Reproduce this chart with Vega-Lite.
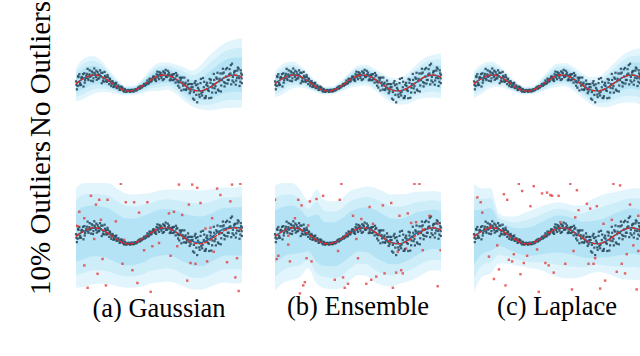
{
"$schema":"https://vega.github.io/schema/vega-lite/v6.json",
"padding":{"left":26,"top":0,"right":0,"bottom":0},
"background":"white",
"config":{"view":{"stroke":null},"title":{"font":"Liberation Serif","fontSize":26.5,"fontWeight":"normal","color":"#000"}},
"title":{"text":"(a) Gaussian","orient":"bottom","anchor":"start","align":"center","dx":83,"offset":-4,"baseline":"alphabetic","frame":"group"},
"datasets":{
"pts":[{"x":0.00,"y":0.20},{"x":0.05,"y":-0.79},{"x":0.10,"y":-0.37},{"x":0.15,"y":0.74},{"x":0.20,"y":1.10},{"x":0.25,"y":0.00},{"x":0.30,"y":-0.24},{"x":0.35,"y":0.75},{"x":0.40,"y":0.61},{"x":0.45,"y":-0.44},{"x":0.50,"y":1.21},{"x":0.55,"y":0.35},{"x":0.60,"y":0.64},{"x":0.65,"y":1.14},{"x":0.70,"y":1.77},{"x":0.75,"y":0.38},{"x":0.80,"y":1.08},{"x":0.85,"y":0.77},{"x":0.90,"y":0.28},{"x":0.95,"y":1.45},{"x":1.00,"y":1.30},{"x":1.05,"y":0.58},{"x":1.10,"y":1.81},{"x":1.15,"y":1.05},{"x":1.20,"y":0.76},{"x":1.25,"y":0.40},{"x":1.30,"y":1.36},{"x":1.35,"y":1.09},{"x":1.40,"y":0.59},{"x":1.45,"y":1.58},{"x":1.50,"y":0.83},{"x":1.55,"y":-0.03},{"x":1.60,"y":1.27},{"x":1.65,"y":0.55},{"x":1.70,"y":0.17},{"x":1.75,"y":0.89},{"x":1.80,"y":0.73},{"x":1.85,"y":0.14},{"x":1.90,"y":1.00},{"x":1.95,"y":0.28},{"x":2.00,"y":-0.14},{"x":2.05,"y":0.46},{"x":2.10,"y":0.17},{"x":2.15,"y":-0.10},{"x":2.20,"y":0.23},{"x":2.25,"y":-0.50},{"x":2.30,"y":-0.31},{"x":2.35,"y":-0.04},{"x":2.40,"y":-0.10},{"x":2.45,"y":-0.64},{"x":2.50,"y":-0.59},{"x":2.55,"y":-0.30},{"x":2.60,"y":-0.50},{"x":2.65,"y":-0.84},{"x":2.70,"y":-0.75},{"x":2.75,"y":-0.57},{"x":2.80,"y":-0.59},{"x":2.85,"y":-0.95},{"x":2.90,"y":-1.08},{"x":2.95,"y":-0.83},{"x":3.00,"y":-0.90},{"x":3.05,"y":-1.04},{"x":3.10,"y":-1.02},{"x":3.15,"y":-0.87},{"x":3.20,"y":-0.91},{"x":3.25,"y":-1.11},{"x":3.30,"y":-1.05},{"x":3.35,"y":-0.97},{"x":3.40,"y":-0.86},{"x":3.45,"y":-1.01},{"x":3.50,"y":-1.03},{"x":3.55,"y":-0.83},{"x":3.60,"y":-0.79},{"x":3.65,"y":-0.85},{"x":3.70,"y":-0.82},{"x":3.75,"y":-0.59},{"x":3.80,"y":-0.60},{"x":3.85,"y":-0.72},{"x":3.90,"y":-0.39},{"x":3.95,"y":-0.54},{"x":4.00,"y":-0.44},{"x":4.05,"y":-0.32},{"x":4.10,"y":-0.14},{"x":4.15,"y":-0.34},{"x":4.20,"y":-0.10},{"x":4.25,"y":0.01},{"x":4.30,"y":0.31},{"x":4.35,"y":-0.09},{"x":4.40,"y":0.00},{"x":4.45,"y":0.28},{"x":4.50,"y":0.49},{"x":4.55,"y":0.27},{"x":4.60,"y":0.46},{"x":4.65,"y":0.80},{"x":4.70,"y":0.80},{"x":4.75,"y":0.36},{"x":4.80,"y":0.52},{"x":4.85,"y":1.08},{"x":4.90,"y":1.42},{"x":4.95,"y":0.72},{"x":5.00,"y":0.48},{"x":5.05,"y":1.04},{"x":5.10,"y":1.24},{"x":5.15,"y":0.64},{"x":5.20,"y":1.02},{"x":5.25,"y":1.44},{"x":5.30,"y":0.48},{"x":5.35,"y":1.21},{"x":5.40,"y":1.65},{"x":5.45,"y":0.74},{"x":5.50,"y":0.82},{"x":5.55,"y":1.06},{"x":5.60,"y":1.29},{"x":5.65,"y":0.34},{"x":5.70,"y":0.55},{"x":5.75,"y":1.00},{"x":5.80,"y":0.87},{"x":5.85,"y":0.35},{"x":5.90,"y":1.11},{"x":5.95,"y":0.55},{"x":6.00,"y":0.05},{"x":6.05,"y":0.85},{"x":6.10,"y":0.97},{"x":6.15,"y":-0.34},{"x":6.20,"y":0.07},{"x":6.25,"y":0.67},{"x":6.30,"y":0.38},{"x":6.35,"y":-0.93},{"x":6.40,"y":0.68},{"x":6.45,"y":-0.33},{"x":6.50,"y":-0.82},{"x":6.55,"y":-0.12},{"x":6.60,"y":0.04},{"x":6.65,"y":-0.77},{"x":6.70,"y":-0.55},{"x":6.75,"y":0.30},{"x":6.80,"y":-0.12},{"x":6.85,"y":-1.27},{"x":6.90,"y":-1.03},{"x":6.95,"y":-0.53},{"x":7.00,"y":-0.15},{"x":7.05,"y":-1.95},{"x":7.10,"y":-1.13},{"x":7.15,"y":0.00},{"x":7.20,"y":0.24},{"x":7.25,"y":-1.48},{"x":7.30,"y":-2.41},{"x":7.35,"y":-0.61},{"x":7.40,"y":-0.85},{"x":7.45,"y":-1.75},{"x":7.50,"y":-0.01},{"x":7.55,"y":-1.29},{"x":7.60,"y":-1.56},{"x":7.65,"y":0.62},{"x":7.70,"y":-0.53},{"x":7.75,"y":-1.88},{"x":7.80,"y":-1.88},{"x":7.85,"y":-0.23},{"x":7.90,"y":0.02},{"x":7.95,"y":-0.88},{"x":8.00,"y":-1.00},{"x":8.05,"y":0.50},{"x":8.10,"y":0.03},{"x":8.15,"y":-1.85},{"x":8.20,"y":-1.19},{"x":8.25,"y":-0.14},{"x":8.30,"y":1.13},{"x":8.35,"y":-0.67},{"x":8.40,"y":-0.38},{"x":8.45,"y":0.68},{"x":8.50,"y":0.53},{"x":8.55,"y":-0.83},{"x":8.60,"y":-0.98},{"x":8.65,"y":0.52},{"x":8.70,"y":1.19},{"x":8.75,"y":-0.31},{"x":8.80,"y":0.35},{"x":8.85,"y":1.78},{"x":8.90,"y":1.30},{"x":8.95,"y":-0.43},{"x":9.00,"y":-0.02},{"x":9.05,"y":0.81},{"x":9.10,"y":1.88},{"x":9.15,"y":0.38},{"x":9.20,"y":0.38},{"x":9.25,"y":1.73},{"x":9.30,"y":1.18},{"x":9.35,"y":-0.17},{"x":9.40,"y":2.41},{"x":9.45,"y":0.76},{"x":9.50,"y":0.10},{"x":9.55,"y":1.45},{"x":9.60,"y":1.51},{"x":9.65,"y":0.31},{"x":9.70,"y":0.66},{"x":9.75,"y":1.93},{"x":9.80,"y":1.80},{"x":9.85,"y":-0.37},{"x":9.90,"y":0.15},{"x":9.95,"y":1.20},{"x":10.0,"y":1.03},{"x":9.98,"y":0.58},
{"x":0.025,"y":-0.24},{"x":0.125,"y":0.85},{"x":0.225,"y":-0.27},{"x":0.325,"y":0.64},{"x":0.425,"y":1.11},{"x":0.525,"y":0.04},{"x":0.625,"y":0.87},{"x":0.725,"y":0.56},{"x":0.825,"y":1.58},{"x":0.925,"y":0.91},{"x":1.025,"y":0.22},{"x":1.125,"y":1.27},{"x":1.225,"y":1.53},{"x":1.325,"y":0.55},{"x":1.425,"y":0.99},{"x":1.525,"y":1.28},{"x":1.625,"y":0.24},{"x":1.725,"y":1.39},{"x":1.825,"y":0.28},{"x":1.925,"y":0.73},{"x":2.025,"y":0.55},{"x":2.125,"y":-0.38},{"x":2.225,"y":0.05},{"x":2.325,"y":-0.46},{"x":2.425,"y":0.03},{"x":2.525,"y":-0.46},{"x":2.625,"y":-0.87},{"x":2.725,"y":-0.44},{"x":2.825,"y":-0.88},{"x":2.925,"y":-0.74},{"x":3.025,"y":-1.11},{"x":3.125,"y":-0.94},{"x":3.225,"y":-0.99},{"x":3.325,"y":-0.86},{"x":3.425,"y":-1.05},{"x":3.525,"y":-0.86},{"x":3.625,"y":-0.95},{"x":3.725,"y":-0.67},{"x":3.825,"y":-0.47},{"x":3.925,"y":-0.57},{"x":4.025,"y":-0.37},{"x":4.125,"y":-0.12},{"x":4.225,"y":-0.22},{"x":4.325,"y":-0.01},{"x":4.425,"y":0.54},{"x":4.525,"y":0.17},{"x":4.625,"y":0.64},{"x":4.725,"y":0.64},{"x":4.825,"y":0.24},{"x":4.925,"y":1.00},{"x":5.025,"y":1.36},{"x":5.125,"y":0.89},{"x":5.225,"y":0.36},{"x":5.325,"y":1.32},{"x":5.425,"y":0.78},{"x":5.525,"y":1.52},{"x":5.625,"y":0.97},{"x":5.725,"y":0.37},{"x":5.825,"y":1.08},{"x":5.925,"y":0.45},{"x":6.025,"y":1.25},{"x":6.125,"y":0.17},{"x":6.225,"y":-0.58},{"x":6.325,"y":0.63},{"x":6.425,"y":0.08},{"x":6.525,"y":0.68},{"x":6.625,"y":-0.87},{"x":6.725,"y":-0.20},{"x":6.825,"y":-0.77},{"x":6.925,"y":-0.13},{"x":7.025,"y":-0.53},{"x":7.125,"y":-2.10},{"x":7.225,"y":-0.28},{"x":7.325,"y":-0.16},{"x":7.425,"y":-1.45},{"x":7.525,"y":0.51},{"x":7.625,"y":-1.11},{"x":7.725,"y":0.15},{"x":7.825,"y":-1.65},{"x":7.925,"y":-0.36},{"x":8.025,"y":-1.90},{"x":8.125,"y":0.40},{"x":8.225,"y":-0.59},{"x":8.325,"y":0.38},{"x":8.425,"y":-1.20},{"x":8.525,"y":1.28},{"x":8.625,"y":0.22},{"x":8.725,"y":-1.06},{"x":8.825,"y":1.18},{"x":8.925,"y":0.10},{"x":9.025,"y":1.71},{"x":9.125,"y":-0.07},{"x":9.225,"y":1.05},{"x":9.325,"y":2.23},{"x":9.425,"y":0.31},{"x":9.525,"y":1.30},{"x":9.625,"y":-0.21},{"x":9.725,"y":1.56},{"x":9.825,"y":0.60},{"x":9.925,"y":1.58},{"x":9.99,"y":-0.02}],
"truth":[{"x":0,"y":-0.075},{"x":0.25,"y":0.295},{"x":0.5,"y":0.623},{"x":0.75,"y":0.866},{"x":1,"y":0.989},{"x":1.25,"y":0.975},{"x":1.5,"y":0.826},{"x":1.75,"y":0.563},{"x":2,"y":0.223},{"x":2.25,"y":-0.149},{"x":2.5,"y":-0.5},{"x":2.75,"y":-0.782},{"x":3,"y":-0.956},{"x":3.25,"y":-0.997},{"x":3.5,"y":-0.901},{"x":3.75,"y":-0.68},{"x":4,"y":-0.365},{"x":4.25,"y":0},{"x":4.5,"y":0.365},{"x":4.75,"y":0.68},{"x":5,"y":0.901},{"x":5.25,"y":0.997},{"x":5.5,"y":0.956},{"x":5.75,"y":0.782},{"x":6,"y":0.5},{"x":6.25,"y":0.149},{"x":6.5,"y":-0.223},{"x":6.75,"y":-0.563},{"x":7,"y":-0.826},{"x":7.25,"y":-0.975},{"x":7.5,"y":-0.989},{"x":7.75,"y":-0.866},{"x":8,"y":-0.623},{"x":8.25,"y":-0.295},{"x":8.5,"y":0.075},{"x":8.75,"y":0.434},{"x":9,"y":0.733},{"x":9.25,"y":0.931},{"x":9.5,"y":1.0},{"x":9.75,"y":0.931},{"x":10,"y":0.733}],
"bandGT":[{"x":0,"m":-0.08,"l3":-2.28,"u3":1.92,"l2":-1.73,"u2":1.42,"l1":-1.18,"u1":0.92},{"x":0.5,"m":0.62,"l3":-1.98,"u3":3.12,"l2":-1.33,"u2":2.5,"l1":-0.68,"u1":1.87},{"x":1,"m":0.99,"l3":-1.41,"u3":3.39,"l2":-0.81,"u2":2.79,"l1":-0.21,"u1":2.19},{"x":1.5,"m":0.83,"l3":-1.17,"u3":2.83,"l2":-0.67,"u2":2.33,"l1":-0.17,"u1":1.83},{"x":2,"m":0.22,"l3":-1.18,"u3":1.62,"l2":-0.83,"u2":1.27,"l1":-0.48,"u1":0.92},{"x":2.5,"m":-0.5,"l3":-1.4,"u3":0.4,"l2":-1.18,"u2":0.18,"l1":-0.95,"u1":-0.05},{"x":3,"m":-0.96,"l3":-1.56,"u3":-0.36,"l2":-1.41,"u2":-0.51,"l1":-1.26,"u1":-0.66},{"x":3.5,"m":-0.9,"l3":-1.5,"u3":-0.3,"l2":-1.35,"u2":-0.45,"l1":-1.2,"u1":-0.6},{"x":4,"m":-0.37,"l3":-1.27,"u3":0.53,"l2":-1.05,"u2":0.31,"l1":-0.82,"u1":0.08},{"x":4.5,"m":0.37,"l3":-1.03,"u3":1.77,"l2":-0.68,"u2":1.42,"l1":-0.33,"u1":1.07},{"x":5,"m":0.9,"l3":-1.0,"u3":2.5,"l2":-0.53,"u2":2.1,"l1":-0.05,"u1":1.7},{"x":5.5,"m":0.96,"l3":-0.84,"u3":2.56,"l2":-0.39,"u2":2.16,"l1":0.06,"u1":1.76},{"x":6,"m":0.5,"l3":-1.3,"u3":2.3,"l2":-0.85,"u2":1.85,"l1":-0.4,"u1":1.4},{"x":6.5,"m":-0.22,"l3":-2.22,"u3":1.98,"l2":-1.72,"u2":1.43,"l1":-1.22,"u1":0.88},{"x":7,"m":-0.83,"l3":-2.93,"u3":1.57,"l2":-2.41,"u2":0.97,"l1":-1.88,"u1":0.37},{"x":7.5,"m":-0.99,"l3":-3.29,"u3":2.21,"l2":-2.72,"u2":1.41,"l1":-2.14,"u1":0.61},{"x":8,"m":-0.62,"l3":-3.42,"u3":3.38,"l2":-2.72,"u2":2.38,"l1":-2.02,"u1":1.38},{"x":8.5,"m":0.08,"l3":-3.32,"u3":4.28,"l2":-2.47,"u2":3.23,"l1":-1.62,"u1":2.18},{"x":9,"m":0.73,"l3":-3.17,"u3":5.03,"l2":-2.2,"u2":3.96,"l1":-1.22,"u1":2.88},{"x":9.5,"m":1.0,"l3":-3.1,"u3":5.4,"l2":-2.08,"u2":4.3,"l1":-1.05,"u1":3.2},{"x":10,"m":0.73,"l3":-3.07,"u3":5.63,"l2":-2.12,"u2":4.41,"l1":-1.17,"u1":3.18}],
"bandET":[{"x":0,"m":-0.08,"l3":-1.78,"u3":1.42,"l2":-1.36,"u2":1.05,"l1":-0.93,"u1":0.67},{"x":0.5,"m":0.62,"l3":-1.38,"u3":2.42,"l2":-0.88,"u2":1.97,"l1":-0.38,"u1":1.52},{"x":1,"m":0.99,"l3":-0.71,"u3":2.69,"l2":-0.29,"u2":2.27,"l1":0.14,"u1":1.84},{"x":1.5,"m":0.83,"l3":-0.57,"u3":2.23,"l2":-0.22,"u2":1.88,"l1":0.13,"u1":1.53},{"x":2,"m":0.22,"l3":-0.78,"u3":1.22,"l2":-0.53,"u2":0.97,"l1":-0.28,"u1":0.72},{"x":2.5,"m":-0.5,"l3":-1.2,"u3":0.2,"l2":-1.03,"u2":0.03,"l1":-0.85,"u1":-0.15},{"x":3,"m":-0.96,"l3":-1.46,"u3":-0.46,"l2":-1.34,"u2":-0.59,"l1":-1.21,"u1":-0.71},{"x":3.5,"m":-0.9,"l3":-1.4,"u3":-0.4,"l2":-1.28,"u2":-0.53,"l1":-1.15,"u1":-0.65},{"x":4,"m":-0.37,"l3":-1.07,"u3":0.33,"l2":-0.9,"u2":0.16,"l1":-0.72,"u1":-0.02},{"x":4.5,"m":0.37,"l3":-0.63,"u3":1.37,"l2":-0.38,"u2":1.12,"l1":-0.13,"u1":0.87},{"x":5,"m":0.9,"l3":-0.4,"u3":2.2,"l2":-0.08,"u2":1.88,"l1":0.25,"u1":1.55},{"x":5.5,"m":0.96,"l3":-0.34,"u3":2.26,"l2":-0.02,"u2":1.94,"l1":0.31,"u1":1.61},{"x":6,"m":0.5,"l3":-0.9,"u3":1.8,"l2":-0.55,"u2":1.48,"l1":-0.2,"u1":1.15},{"x":6.5,"m":-0.22,"l3":-1.72,"u3":1.18,"l2":-1.35,"u2":0.83,"l1":-0.97,"u1":0.48},{"x":7,"m":-0.83,"l3":-2.43,"u3":0.67,"l2":-2.03,"u2":0.3,"l1":-1.63,"u1":-0.08},{"x":7.5,"m":-0.99,"l3":-2.69,"u3":0.61,"l2":-2.27,"u2":0.21,"l1":-1.84,"u1":-0.19},{"x":8,"m":-0.62,"l3":-2.62,"u3":1.28,"l2":-2.12,"u2":0.81,"l1":-1.62,"u1":0.33},{"x":8.5,"m":0.08,"l3":-2.12,"u3":2.28,"l2":-1.57,"u2":1.73,"l1":-1.02,"u1":1.18},{"x":9,"m":0.73,"l3":-1.87,"u3":3.13,"l2":-1.22,"u2":2.53,"l1":-0.57,"u1":1.93},{"x":9.5,"m":1.0,"l3":-1.8,"u3":3.5,"l2":-1.1,"u2":2.88,"l1":-0.4,"u1":2.25},{"x":10,"m":0.73,"l3":-1.97,"u3":3.73,"l2":-1.3,"u2":2.98,"l1":-0.62,"u1":2.23}],
"bandLT":[{"x":0,"m":-0.08,"l3":-1.88,"u3":1.52,"l2":-1.43,"u2":1.12,"l1":-0.98,"u1":0.72},{"x":0.5,"m":0.62,"l3":-1.28,"u3":2.42,"l2":-0.81,"u2":1.97,"l1":-0.33,"u1":1.52},{"x":1,"m":0.99,"l3":-0.61,"u3":2.69,"l2":-0.21,"u2":2.27,"l1":0.19,"u1":1.84},{"x":1.5,"m":0.83,"l3":-0.47,"u3":2.23,"l2":-0.15,"u2":1.88,"l1":0.18,"u1":1.53},{"x":2,"m":0.22,"l3":-0.78,"u3":1.22,"l2":-0.53,"u2":0.97,"l1":-0.28,"u1":0.72},{"x":2.5,"m":-0.5,"l3":-1.2,"u3":0.2,"l2":-1.03,"u2":0.03,"l1":-0.85,"u1":-0.15},{"x":3,"m":-0.96,"l3":-1.46,"u3":-0.46,"l2":-1.34,"u2":-0.59,"l1":-1.21,"u1":-0.71},{"x":3.5,"m":-0.9,"l3":-1.4,"u3":-0.4,"l2":-1.28,"u2":-0.53,"l1":-1.15,"u1":-0.65},{"x":4,"m":-0.37,"l3":-1.17,"u3":0.43,"l2":-0.97,"u2":0.23,"l1":-0.77,"u1":0.03},{"x":4.5,"m":0.37,"l3":-0.73,"u3":1.57,"l2":-0.46,"u2":1.27,"l1":-0.18,"u1":0.97},{"x":5,"m":0.9,"l3":-0.5,"u3":2.4,"l2":-0.15,"u2":2.03,"l1":0.2,"u1":1.65},{"x":5.5,"m":0.96,"l3":-0.44,"u3":2.46,"l2":-0.09,"u2":2.09,"l1":0.26,"u1":1.71},{"x":6,"m":0.5,"l3":-1.0,"u3":2.0,"l2":-0.63,"u2":1.63,"l1":-0.25,"u1":1.25},{"x":6.5,"m":-0.22,"l3":-1.82,"u3":1.28,"l2":-1.42,"u2":0.91,"l1":-1.02,"u1":0.53},{"x":7,"m":-0.83,"l3":-2.63,"u3":0.77,"l2":-2.18,"u2":0.37,"l1":-1.73,"u1":-0.03},{"x":7.5,"m":-0.99,"l3":-2.99,"u3":0.81,"l2":-2.49,"u2":0.36,"l1":-1.99,"u1":-0.09},{"x":8,"m":-0.62,"l3":-3.02,"u3":1.58,"l2":-2.42,"u2":1.03,"l1":-1.82,"u1":0.48},{"x":8.5,"m":0.08,"l3":-2.72,"u3":2.58,"l2":-2.02,"u2":1.96,"l1":-1.32,"u1":1.33},{"x":9,"m":0.73,"l3":-2.47,"u3":3.53,"l2":-1.67,"u2":2.83,"l1":-0.87,"u1":2.13},{"x":9.5,"m":1.0,"l3":-2.4,"u3":4.1,"l2":-1.55,"u2":3.33,"l1":-0.7,"u1":2.55},{"x":10,"m":0.73,"l3":-2.67,"u3":4.33,"l2":-1.82,"u2":3.43,"l1":-0.97,"u1":2.53}],
"bandGB":[{"x":0,"m":0.0,"l3":-6.5,"u3":6.0,"l2":-4.88,"u2":4.5,"l1":-3.25,"u1":3.0},{"x":0.5,"m":0.6,"l3":-6.4,"u3":6.6,"l2":-4.65,"u2":5.18,"l1":-2.9,"u1":3.65},{"x":1,"m":0.95,"l3":-6.05,"u3":6.6,"l2":-4.3,"u2":5.23,"l1":-2.55,"u1":3.8},{"x":1.5,"m":0.8,"l3":-6.0,"u3":6.6,"l2":-4.3,"u2":5.15,"l1":-2.6,"u1":3.7},{"x":2,"m":0.25,"l3":-6.05,"u3":6.55,"l2":-4.48,"u2":4.98,"l1":-2.9,"u1":3.4},{"x":2.5,"m":-0.45,"l3":-6.35,"u3":5.85,"l2":-4.88,"u2":4.28,"l1":-3.4,"u1":2.7},{"x":3,"m":-0.9,"l3":-6.5,"u3":5.3,"l2":-5.1,"u2":3.75,"l1":-3.7,"u1":2.2},{"x":3.5,"m":-0.85,"l3":-6.45,"u3":5.15,"l2":-5.05,"u2":3.65,"l1":-3.65,"u1":2.15},{"x":4,"m":-0.35,"l3":-6.35,"u3":5.25,"l2":-4.85,"u2":3.85,"l1":-3.35,"u1":2.45},{"x":4.5,"m":0.35,"l3":-5.95,"u3":5.35,"l2":-4.38,"u2":4.1,"l1":-2.8,"u1":2.85},{"x":5,"m":0.85,"l3":-5.85,"u3":5.65,"l2":-4.18,"u2":4.45,"l1":-2.5,"u1":3.25},{"x":5.5,"m":0.9,"l3":-5.7,"u3":5.8,"l2":-4.05,"u2":4.58,"l1":-2.4,"u1":3.35},{"x":6,"m":0.5,"l3":-5.9,"u3":5.8,"l2":-4.3,"u2":4.48,"l1":-2.7,"u1":3.15},{"x":6.5,"m":-0.15,"l3":-6.35,"u3":5.75,"l2":-4.8,"u2":4.28,"l1":-3.25,"u1":2.8},{"x":7,"m":-0.7,"l3":-6.7,"u3":5.7,"l2":-5.2,"u2":4.1,"l1":-3.7,"u1":2.5},{"x":7.5,"m":-0.85,"l3":-6.75,"u3":5.65,"l2":-5.28,"u2":4.03,"l1":-3.8,"u1":2.4},{"x":8,"m":-0.45,"l3":-6.45,"u3":5.75,"l2":-4.95,"u2":4.2,"l1":-3.45,"u1":2.65},{"x":8.5,"m":0.35,"l3":-6.05,"u3":5.95,"l2":-4.45,"u2":4.55,"l1":-2.85,"u1":3.15},{"x":9,"m":0.95,"l3":-5.85,"u3":6.05,"l2":-4.15,"u2":4.78,"l1":-2.45,"u1":3.5},{"x":9.5,"m":1.05,"l3":-5.95,"u3":6.05,"l2":-4.2,"u2":4.8,"l1":-2.45,"u1":3.55},{"x":10,"m":1.0,"l3":-5.9,"u3":6.2,"l2":-4.18,"u2":4.9,"l1":-2.45,"u1":3.6}],
"bandEB":[{"x":0,"m":-0.08,"l3":-6.88,"u3":6.32,"l2":-5.18,"u2":4.72,"l1":-3.48,"u1":3.12},{"x":0.5,"m":0.62,"l3":-5.88,"u3":6.6,"l2":-4.26,"u2":5.12,"l1":-2.63,"u1":3.62},{"x":1,"m":0.99,"l3":-5.51,"u3":6.59,"l2":-3.89,"u2":5.19,"l1":-2.26,"u1":3.79},{"x":1.5,"m":0.83,"l3":-5.17,"u3":5.83,"l2":-3.67,"u2":4.58,"l1":-2.17,"u1":3.33},{"x":2,"m":0.22,"l3":-4.08,"u3":4.42,"l2":-3.01,"u2":3.37,"l1":-1.93,"u1":2.32},{"x":2.5,"m":-0.5,"l3":-6.0,"u3":5.8,"l2":-4.63,"u2":4.23,"l1":-3.25,"u1":2.65},{"x":3,"m":-0.96,"l3":-6.56,"u3":4.44,"l2":-5.16,"u2":3.09,"l1":-3.76,"u1":1.74},{"x":3.5,"m":-0.9,"l3":-6.7,"u3":4.3,"l2":-5.25,"u2":3.0,"l1":-3.8,"u1":1.7},{"x":4,"m":-0.37,"l3":-6.57,"u3":4.63,"l2":-5.02,"u2":3.38,"l1":-3.47,"u1":2.13},{"x":4.5,"m":0.37,"l3":-5.63,"u3":5.57,"l2":-4.13,"u2":4.27,"l1":-2.63,"u1":2.97},{"x":5,"m":0.9,"l3":-4.9,"u3":5.9,"l2":-3.45,"u2":4.65,"l1":-2.0,"u1":3.4},{"x":5.5,"m":0.96,"l3":-5.04,"u3":6.16,"l2":-3.54,"u2":4.86,"l1":-2.04,"u1":3.56},{"x":6,"m":0.5,"l3":-5.8,"u3":6.0,"l2":-4.23,"u2":4.63,"l1":-2.65,"u1":3.25},{"x":6.5,"m":-0.22,"l3":-6.22,"u3":5.58,"l2":-4.72,"u2":4.13,"l1":-3.22,"u1":2.68},{"x":7,"m":-0.83,"l3":-6.33,"u3":5.17,"l2":-4.96,"u2":3.67,"l1":-3.58,"u1":2.17},{"x":7.5,"m":-0.99,"l3":-5.99,"u3":5.21,"l2":-4.74,"u2":3.66,"l1":-3.49,"u1":2.11},{"x":8,"m":-0.5,"l3":-5.7,"u3":5.3,"l2":-4.4,"u2":3.85,"l1":-3.1,"u1":2.4},{"x":8.5,"m":0.3,"l3":-5.3,"u3":5.5,"l2":-3.9,"u2":4.2,"l1":-2.5,"u1":2.9},{"x":9,"m":0.73,"l3":-4.67,"u3":5.53,"l2":-3.32,"u2":4.33,"l1":-1.97,"u1":3.13},{"x":9.5,"m":1.0,"l3":-4.3,"u3":5.6,"l2":-2.98,"u2":4.45,"l1":-1.65,"u1":3.3},{"x":10,"m":0.73,"l3":-4.37,"u3":5.43,"l2":-3.1,"u2":4.26,"l1":-1.82,"u1":3.08}],
"bandLB":[{"x":0,"m":-0.08,"l3":-7.08,"u3":6.52,"l2":-5.33,"u2":4.87,"l1":-3.58,"u1":3.22},{"x":0.5,"m":0.62,"l3":-5.08,"u3":5.92,"l2":-3.66,"u2":4.6,"l1":-2.23,"u1":3.27},{"x":1,"m":0.99,"l3":-4.71,"u3":5.99,"l2":-3.29,"u2":4.74,"l1":-1.86,"u1":3.49},{"x":1.5,"m":0.83,"l3":-3.47,"u3":2.83,"l2":-2.4,"u2":2.33,"l1":-1.32,"u1":1.83},{"x":2,"m":0.22,"l3":-3.48,"u3":2.42,"l2":-2.56,"u2":1.87,"l1":-1.63,"u1":1.32},{"x":2.5,"m":-0.5,"l3":-3.7,"u3":2.4,"l2":-2.9,"u2":1.68,"l1":-2.1,"u1":0.95},{"x":3,"m":-0.96,"l3":-3.86,"u3":2.84,"l2":-3.14,"u2":1.89,"l1":-2.41,"u1":0.94},{"x":3.5,"m":-0.9,"l3":-4.1,"u3":3.2,"l2":-3.3,"u2":2.18,"l1":-2.5,"u1":1.15},{"x":4,"m":-0.37,"l3":-4.27,"u3":3.63,"l2":-3.3,"u2":2.63,"l1":-2.32,"u1":1.63},{"x":4.5,"m":0.37,"l3":-4.73,"u3":3.97,"l2":-3.46,"u2":3.07,"l1":-2.18,"u1":2.17},{"x":5,"m":0.9,"l3":-5.1,"u3":4.2,"l2":-3.6,"u2":3.38,"l1":-2.1,"u1":2.55},{"x":5.5,"m":0.96,"l3":-5.34,"u3":4.06,"l2":-3.77,"u2":3.29,"l1":-2.19,"u1":2.51},{"x":6,"m":0.5,"l3":-5.3,"u3":3.8,"l2":-3.85,"u2":2.98,"l1":-2.4,"u1":2.15},{"x":6.5,"m":-0.22,"l3":-5.12,"u3":3.78,"l2":-3.9,"u2":2.78,"l1":-2.67,"u1":1.78},{"x":7,"m":-0.83,"l3":-4.73,"u3":4.47,"l2":-3.76,"u2":3.15,"l1":-2.78,"u1":1.82},{"x":7.5,"m":-0.99,"l3":-4.49,"u3":4.91,"l2":-3.62,"u2":3.44,"l1":-2.74,"u1":1.96},{"x":8,"m":-0.62,"l3":-4.72,"u3":5.28,"l2":-3.7,"u2":3.81,"l1":-2.67,"u1":2.33},{"x":8.5,"m":0.08,"l3":-5.12,"u3":5.48,"l2":-3.82,"u2":4.13,"l1":-2.52,"u1":2.78},{"x":9,"m":0.73,"l3":-5.47,"u3":5.73,"l2":-3.92,"u2":4.48,"l1":-2.37,"u1":3.23},{"x":9.5,"m":1.0,"l3":-5.5,"u3":5.9,"l2":-3.88,"u2":4.68,"l1":-2.25,"u1":3.45},{"x":10,"m":0.73,"l3":-5.57,"u3":5.93,"l2":-4.0,"u2":4.63,"l1":-2.42,"u1":3.33}],
"outG":[{"x":2.7,"y":6.5},{"x":6.2,"y":6.4},{"x":7.0,"y":6.4},{"x":7.3,"y":6.0},{"x":9.4,"y":6.4},{"x":9.9,"y":6.5},{"x":8.5,"y":5.9},{"x":0.9,"y":5.0},{"x":8.7,"y":5.1},{"x":1.4,"y":4.5},{"x":1.9,"y":4.5},{"x":1.2,"y":3.9},{"x":3.0,"y":4.2},{"x":3.5,"y":4.2},{"x":4.3,"y":4.2},{"x":9.3,"y":4.3},{"x":6.8,"y":3.9},{"x":7.5,"y":4.1},{"x":0.2,"y":3.0},{"x":3.8,"y":2.9},{"x":5.6,"y":2.8},{"x":5.9,"y":3.0},{"x":6.4,"y":2.6},{"x":0.5,"y":2.2},{"x":1.5,"y":2.0},{"x":2.4,"y":1.8},{"x":8.2,"y":2.2},{"x":7.8,"y":0.9},{"x":8.1,"y":1.0},{"x":0.0,"y":1.25},{"x":0.1,"y":1.2},{"x":1.1,"y":-0.4},{"x":2.9,"y":-0.5},{"x":4.6,"y":-1.3},{"x":5.0,"y":-0.9},{"x":6.1,"y":-1.3},{"x":4.1,"y":-1.8},{"x":1.6,"y":-2.9},{"x":5.7,"y":-2.5},{"x":8.3,"y":-2.0},{"x":0.5,"y":-3.7},{"x":2.8,"y":-3.5},{"x":6.9,"y":-3.4},{"x":7.2,"y":-3.5},{"x":7.9,"y":-3.2},{"x":9.7,"y":-2.8},{"x":9.1,"y":-3.3},{"x":3.4,"y":-4.3},{"x":1.3,"y":-4.75},{"x":9.6,"y":-5.2},{"x":6.7,"y":-5.6},{"x":3.7,"y":-5.9},{"x":1.8,"y":-6.2},{"x":0.7,"y":-6.5},{"x":4.5,"y":-7.0},{"x":9.8,"y":-6.9}],
"outE":[{"x":4.0,"y":6.5},{"x":8.4,"y":6.5},{"x":8.7,"y":6.5},{"x":0.0,"y":4.5},{"x":1.4,"y":4.5},{"x":2.1,"y":4.3},{"x":2.5,"y":4.6},{"x":2.9,"y":5.0},{"x":3.9,"y":4.5},{"x":1.6,"y":3.8},{"x":7.0,"y":4.1},{"x":6.5,"y":3.8},{"x":5.7,"y":3.6},{"x":8.0,"y":2.8},{"x":7.5,"y":2.5},{"x":9.3,"y":2.5},{"x":4.7,"y":2.5},{"x":1.2,"y":2.2},{"x":5.2,"y":2.1},{"x":2.0,"y":1.3},{"x":5.9,"y":1.5},{"x":8.2,"y":1.6},{"x":8.5,"y":1.7},{"x":9.8,"y":1.5},{"x":8.9,"y":0.8},{"x":0.8,"y":0.0},{"x":4.9,"y":-0.4},{"x":0.8,"y":-1.1},{"x":3.8,"y":-1.9},{"x":7.4,"y":-2.0},{"x":7.9,"y":-1.6},{"x":8.9,"y":-1.8},{"x":9.98,"y":-1.8},{"x":0.2,"y":-2.5},{"x":0.1,"y":-2.9},{"x":1.9,"y":-2.8},{"x":5.0,"y":-2.8},{"x":0.9,"y":-3.2},{"x":2.2,"y":-3.2},{"x":7.6,"y":-4.3},{"x":7.3,"y":-4.6},{"x":7.7,"y":-4.7},{"x":6.6,"y":-4.7},{"x":6.1,"y":-5.1},{"x":4.1,"y":-5.2},{"x":3.6,"y":-5.5},{"x":5.8,"y":-5.5},{"x":1.8,"y":-5.8},{"x":4.4,"y":-6.0},{"x":1.7,"y":-6.2},{"x":5.5,"y":-6.0},{"x":4.2,"y":-6.5},{"x":7.1,"y":-6.5},{"x":9.8,"y":-6.3},{"x":1.5,"y":-7.2}],
"outL":[{"x":2.7,"y":6.5},{"x":5.8,"y":6.5},{"x":8.4,"y":6.5},{"x":8.8,"y":6.3},{"x":3.6,"y":6.2},{"x":2.9,"y":5.6},{"x":6.2,"y":5.7},{"x":0.2,"y":4.8},{"x":1.8,"y":5.2},{"x":4.1,"y":5.3},{"x":4.4,"y":5.4},{"x":4.6,"y":5.1},{"x":4.7,"y":5.0},{"x":5.1,"y":5.0},{"x":2.0,"y":4.5},{"x":0.4,"y":4.2},{"x":6.8,"y":4.0},{"x":7.4,"y":3.7},{"x":7.0,"y":3.4},{"x":9.4,"y":3.9},{"x":3.4,"y":3.7},{"x":0.5,"y":2.9},{"x":6.3,"y":3.2},{"x":6.1,"y":2.3},{"x":8.3,"y":2.0},{"x":5.2,"y":1.7},{"x":7.8,"y":1.5},{"x":9.9,"y":2.5},{"x":1.0,"y":1.2},{"x":1.0,"y":1.0},{"x":1.4,"y":-1.2},{"x":2.6,"y":-0.5},{"x":3.8,"y":-1.7},{"x":6.0,"y":-1.9},{"x":9.6,"y":-1.2},{"x":9.9,"y":-1.9},{"x":0.9,"y":-2.6},{"x":2.1,"y":-3.0},{"x":2.3,"y":-3.2},{"x":3.2,"y":-2.5},{"x":7.3,"y":-2.8},{"x":2.4,"y":-2.3},{"x":3.0,"y":-3.4},{"x":4.3,"y":-3.4},{"x":4.5,"y":-3.7},{"x":5.5,"y":-3.5},{"x":6.9,"y":-3.5},{"x":7.2,"y":-3.5},{"x":8.9,"y":-3.5},{"x":9.2,"y":-2.3},{"x":1.5,"y":-4.2},{"x":2.8,"y":-4.8},{"x":4.8,"y":-4.6},{"x":8.6,"y":-4.5},{"x":9.1,"y":-4.7},{"x":1.2,"y":-5.4},{"x":1.9,"y":-6.2},{"x":7.9,"y":-5.6},{"x":3.9,"y":-7.0},{"x":5.9,"y":-6.7},{"x":7.6,"y":-6.6},{"x":9.8,"y":-6.7}]
},
"concat":[
{"width":166,"height":112,"title":{"text":"No Outliers","orient":"left","anchor":"middle","baseline":"alphabetic","offset":-6,"dx":14,"fontSize":29},"layer":[
{"data":{"name":"bandGT"},"mark":{"type":"area","interpolate":"monotone","color":"#e3f5fc"},"encoding":{"x":{"field":"x","type":"quantitative","scale":{"domain":[0,10],"nice":false},"axis":null},"y":{"field":"l3","type":"quantitative","scale":{"domain":[-7,7],"nice":false},"axis":null},"y2":{"field":"u3"}}},
{"data":{"name":"bandGT"},"mark":{"type":"area","interpolate":"monotone","color":"#cdedf9"},"encoding":{"x":{"field":"x","type":"quantitative","axis":null},"y":{"field":"l2","type":"quantitative","axis":null},"y2":{"field":"u2"}}},
{"data":{"name":"bandGT"},"mark":{"type":"area","interpolate":"monotone","color":"#b5e3f6"},"encoding":{"x":{"field":"x","type":"quantitative","axis":null},"y":{"field":"l1","type":"quantitative","axis":null},"y2":{"field":"u1"}}},
{"data":{"name":"pts"},"mark":{"type":"square","size":5,"color":"#2b4d60","opacity":0.9},"encoding":{"x":{"field":"x","type":"quantitative","axis":null},"y":{"field":"y","type":"quantitative","axis":null}}},
{"data":{"name":"bandGT"},"mark":{"type":"line","interpolate":"monotone","color":"#1d6f9a","strokeWidth":1.5},"encoding":{"x":{"field":"x","type":"quantitative","axis":null},"y":{"field":"m","type":"quantitative","axis":null}}},
{"data":{"name":"truth"},"mark":{"type":"line","interpolate":"monotone","color":"#e8251f","strokeWidth":1.4,"strokeDash":[4,1.5]},"encoding":{"x":{"field":"x","type":"quantitative","axis":null},"y":{"field":"y","type":"quantitative","axis":null}}}
]},
{"width":166,"height":112,"layer":[
{"data":{"name":"bandET"},"mark":{"type":"area","interpolate":"monotone","color":"#e3f5fc"},"encoding":{"x":{"field":"x","type":"quantitative","scale":{"domain":[0,10],"nice":false},"axis":null},"y":{"field":"l3","type":"quantitative","scale":{"domain":[-7,7],"nice":false},"axis":null},"y2":{"field":"u3"}}},
{"data":{"name":"bandET"},"mark":{"type":"area","interpolate":"monotone","color":"#cdedf9"},"encoding":{"x":{"field":"x","type":"quantitative","axis":null},"y":{"field":"l2","type":"quantitative","axis":null},"y2":{"field":"u2"}}},
{"data":{"name":"bandET"},"mark":{"type":"area","interpolate":"monotone","color":"#b5e3f6"},"encoding":{"x":{"field":"x","type":"quantitative","axis":null},"y":{"field":"l1","type":"quantitative","axis":null},"y2":{"field":"u1"}}},
{"data":{"name":"pts"},"mark":{"type":"square","size":5,"color":"#2b4d60","opacity":0.9},"encoding":{"x":{"field":"x","type":"quantitative","axis":null},"y":{"field":"y","type":"quantitative","axis":null}}},
{"data":{"name":"bandET"},"mark":{"type":"line","interpolate":"monotone","color":"#1d6f9a","strokeWidth":1.5},"encoding":{"x":{"field":"x","type":"quantitative","axis":null},"y":{"field":"m","type":"quantitative","axis":null}}},
{"data":{"name":"truth"},"mark":{"type":"line","interpolate":"monotone","color":"#e8251f","strokeWidth":1.4,"strokeDash":[4,1.5]},"encoding":{"x":{"field":"x","type":"quantitative","axis":null},"y":{"field":"y","type":"quantitative","axis":null}}}
]},
{"width":166,"height":112,"layer":[
{"data":{"name":"bandLT"},"mark":{"type":"area","interpolate":"monotone","color":"#e3f5fc"},"encoding":{"x":{"field":"x","type":"quantitative","scale":{"domain":[0,10],"nice":false},"axis":null},"y":{"field":"l3","type":"quantitative","scale":{"domain":[-7,7],"nice":false},"axis":null},"y2":{"field":"u3"}}},
{"data":{"name":"bandLT"},"mark":{"type":"area","interpolate":"monotone","color":"#cdedf9"},"encoding":{"x":{"field":"x","type":"quantitative","axis":null},"y":{"field":"l2","type":"quantitative","axis":null},"y2":{"field":"u2"}}},
{"data":{"name":"bandLT"},"mark":{"type":"area","interpolate":"monotone","color":"#b5e3f6"},"encoding":{"x":{"field":"x","type":"quantitative","axis":null},"y":{"field":"l1","type":"quantitative","axis":null},"y2":{"field":"u1"}}},
{"data":{"name":"pts"},"mark":{"type":"square","size":5,"color":"#2b4d60","opacity":0.9},"encoding":{"x":{"field":"x","type":"quantitative","axis":null},"y":{"field":"y","type":"quantitative","axis":null}}},
{"data":{"name":"bandLT"},"mark":{"type":"line","interpolate":"monotone","color":"#1d6f9a","strokeWidth":1.5},"encoding":{"x":{"field":"x","type":"quantitative","axis":null},"y":{"field":"m","type":"quantitative","axis":null}}},
{"data":{"name":"truth"},"mark":{"type":"line","interpolate":"monotone","color":"#e8251f","strokeWidth":1.4,"strokeDash":[4,1.5]},"encoding":{"x":{"field":"x","type":"quantitative","axis":null},"y":{"field":"y","type":"quantitative","axis":null}}}
]},
{"width":166,"height":112,"title":{"text":"10% Outliers","orient":"left","anchor":"middle","baseline":"alphabetic","offset":-6,"dx":21,"fontSize":29},"layer":[
{"data":{"name":"bandGB"},"mark":{"type":"area","interpolate":"monotone","color":"#e3f5fc"},"encoding":{"x":{"field":"x","type":"quantitative","scale":{"domain":[0,10],"nice":false},"axis":null},"y":{"field":"l3","type":"quantitative","scale":{"domain":[-7.4,6.6],"nice":false},"axis":null},"y2":{"field":"u3"}}},
{"data":{"name":"bandGB"},"mark":{"type":"area","interpolate":"monotone","color":"#cdedf9"},"encoding":{"x":{"field":"x","type":"quantitative","axis":null},"y":{"field":"l2","type":"quantitative","axis":null},"y2":{"field":"u2"}}},
{"data":{"name":"bandGB"},"mark":{"type":"area","interpolate":"monotone","color":"#b5e3f6"},"encoding":{"x":{"field":"x","type":"quantitative","axis":null},"y":{"field":"l1","type":"quantitative","axis":null},"y2":{"field":"u1"}}},
{"data":{"name":"pts"},"mark":{"type":"square","size":5,"color":"#2b4d60","opacity":0.9},"encoding":{"x":{"field":"x","type":"quantitative","axis":null},"y":{"field":"y","type":"quantitative","axis":null}}},
{"data":{"name":"bandGB"},"mark":{"type":"line","interpolate":"monotone","color":"#1d6f9a","strokeWidth":1.5},"encoding":{"x":{"field":"x","type":"quantitative","axis":null},"y":{"field":"m","type":"quantitative","axis":null}}},
{"data":{"name":"truth"},"mark":{"type":"line","interpolate":"monotone","color":"#e8251f","strokeWidth":1.4,"strokeDash":[4,1.5]},"encoding":{"x":{"field":"x","type":"quantitative","axis":null},"y":{"field":"y","type":"quantitative","axis":null}}},
{"data":{"name":"outG"},"mark":{"type":"square","size":6,"color":"#e3282a","clip":true},"encoding":{"x":{"field":"x","type":"quantitative","axis":null},"y":{"field":"y","type":"quantitative","axis":null}}}
]},
{"width":166,"height":112,"title":{"text":"(b) Ensemble","orient":"bottom","anchor":"middle","baseline":"alphabetic","offset":20},"layer":[
{"data":{"name":"bandEB"},"mark":{"type":"area","interpolate":"monotone","color":"#e3f5fc"},"encoding":{"x":{"field":"x","type":"quantitative","scale":{"domain":[0,10],"nice":false},"axis":null},"y":{"field":"l3","type":"quantitative","scale":{"domain":[-7.4,6.6],"nice":false},"axis":null},"y2":{"field":"u3"}}},
{"data":{"name":"bandEB"},"mark":{"type":"area","interpolate":"monotone","color":"#cdedf9"},"encoding":{"x":{"field":"x","type":"quantitative","axis":null},"y":{"field":"l2","type":"quantitative","axis":null},"y2":{"field":"u2"}}},
{"data":{"name":"bandEB"},"mark":{"type":"area","interpolate":"monotone","color":"#b5e3f6"},"encoding":{"x":{"field":"x","type":"quantitative","axis":null},"y":{"field":"l1","type":"quantitative","axis":null},"y2":{"field":"u1"}}},
{"data":{"name":"pts"},"mark":{"type":"square","size":5,"color":"#2b4d60","opacity":0.9},"encoding":{"x":{"field":"x","type":"quantitative","axis":null},"y":{"field":"y","type":"quantitative","axis":null}}},
{"data":{"name":"bandEB"},"mark":{"type":"line","interpolate":"monotone","color":"#1d6f9a","strokeWidth":1.5},"encoding":{"x":{"field":"x","type":"quantitative","axis":null},"y":{"field":"m","type":"quantitative","axis":null}}},
{"data":{"name":"truth"},"mark":{"type":"line","interpolate":"monotone","color":"#e8251f","strokeWidth":1.4,"strokeDash":[4,1.5]},"encoding":{"x":{"field":"x","type":"quantitative","axis":null},"y":{"field":"y","type":"quantitative","axis":null}}},
{"data":{"name":"outE"},"mark":{"type":"square","size":6,"color":"#e3282a","clip":true},"encoding":{"x":{"field":"x","type":"quantitative","axis":null},"y":{"field":"y","type":"quantitative","axis":null}}}
]},
{"width":166,"height":112,"title":{"text":"(c) Laplace","orient":"bottom","anchor":"middle","baseline":"alphabetic","offset":20},"layer":[
{"data":{"name":"bandLB"},"mark":{"type":"area","interpolate":"monotone","color":"#e3f5fc"},"encoding":{"x":{"field":"x","type":"quantitative","scale":{"domain":[0,10],"nice":false},"axis":null},"y":{"field":"l3","type":"quantitative","scale":{"domain":[-7.4,6.6],"nice":false},"axis":null},"y2":{"field":"u3"}}},
{"data":{"name":"bandLB"},"mark":{"type":"area","interpolate":"monotone","color":"#cdedf9"},"encoding":{"x":{"field":"x","type":"quantitative","axis":null},"y":{"field":"l2","type":"quantitative","axis":null},"y2":{"field":"u2"}}},
{"data":{"name":"bandLB"},"mark":{"type":"area","interpolate":"monotone","color":"#b5e3f6"},"encoding":{"x":{"field":"x","type":"quantitative","axis":null},"y":{"field":"l1","type":"quantitative","axis":null},"y2":{"field":"u1"}}},
{"data":{"name":"pts"},"mark":{"type":"square","size":5,"color":"#2b4d60","opacity":0.9},"encoding":{"x":{"field":"x","type":"quantitative","axis":null},"y":{"field":"y","type":"quantitative","axis":null}}},
{"data":{"name":"bandLB"},"mark":{"type":"line","interpolate":"monotone","color":"#1d6f9a","strokeWidth":1.5},"encoding":{"x":{"field":"x","type":"quantitative","axis":null},"y":{"field":"m","type":"quantitative","axis":null}}},
{"data":{"name":"truth"},"mark":{"type":"line","interpolate":"monotone","color":"#e8251f","strokeWidth":1.4,"strokeDash":[4,1.5]},"encoding":{"x":{"field":"x","type":"quantitative","axis":null},"y":{"field":"y","type":"quantitative","axis":null}}},
{"data":{"name":"outL"},"mark":{"type":"square","size":6,"color":"#e3282a","clip":true},"encoding":{"x":{"field":"x","type":"quantitative","axis":null},"y":{"field":"y","type":"quantitative","axis":null}}}
]}
],
"columns":3,
"spacing":{"row":44,"column":33},
"bounds":"flush"
}
